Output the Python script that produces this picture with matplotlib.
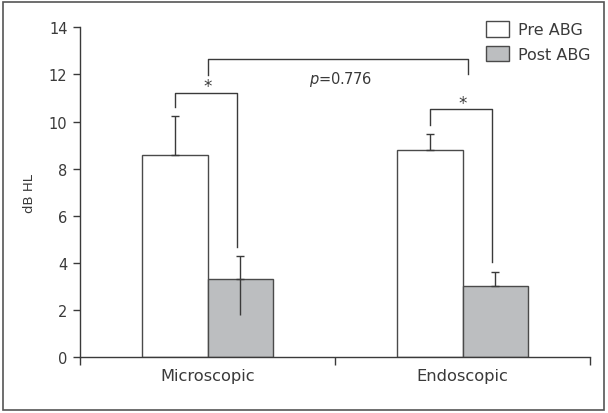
import matplotlib
matplotlib.use("Agg")
import matplotlib.pyplot as plt
import numpy as np
from matplotlib.patches import Rectangle

categories = ["Microscopic", "Endoscopic"]
series = ["Pre ABG", "Post ABG"]
pre_vals = [8.58, 8.80]
post_vals = [3.34, 3.03]
pre_err_up = [1.64, 0.69]
pre_err_lo = [0.0, 0.0]
post_err_up = [0.96, 0.59]
post_err_lo = [1.56, 0.0]
yticks = [0, 2, 4, 6, 8, 10, 12, 14]

ink = "#3a3a3a"
plt.rcParams['font.family'] = ['DejaVu Sans']

fig = plt.figure(figsize=(6.08, 4.14), dpi=100)
ax = fig.add_axes([80/608, 1-358.3/414, 510/608, 330/414])

x = np.arange(len(categories))
w = 0.255
ax.bar(x - w/2, pre_vals, w, color="white", edgecolor="#4a4a4a", linewidth=1.0, label=series[0], zorder=2)
ax.bar(x + w/2, post_vals, w, color="#bcbec0", edgecolor="#4a4a4a", linewidth=1.0, label=series[1], zorder=2)

z = np.zeros(2)
ax.errorbar(x - w/2, pre_vals, yerr=[z, pre_err_up], fmt="none", ecolor=ink, elinewidth=1.0, capsize=3, capthick=1.0, zorder=3)
ax.errorbar(x + w/2, post_vals, yerr=[z, post_err_up], fmt="none", ecolor=ink, elinewidth=1.0, capsize=3, capthick=1.0, zorder=3)
ax.errorbar(x + w/2, post_vals, yerr=[post_err_lo, z], fmt="none", ecolor=ink, elinewidth=1.0, capsize=0, zorder=3)

# significance brackets
lk = dict(color=ink, lw=1.0, zorder=3)
# microscopic
ax.plot([x[0]-w/2, x[0]-w/2, x[0]+w/2 - 0.01, x[0]+w/2 - 0.01], [10.61, 11.20, 11.20, 4.67], **lk)
ax.text(x[0], 11.12, "*", ha="center", va="bottom", fontsize=12, color=ink)
# endoscopic
ax.plot([x[1]-w/2, x[1]-w/2, x[1]+w/2 - 0.01, x[1]+w/2 - 0.01], [9.86, 10.52, 10.52, 4.03], **lk)
ax.text(x[1], 10.42, "*", ha="center", va="bottom", fontsize=12, color=ink)
# between groups
ax.plot([x[0], x[0], x[1]+0.02, x[1]+0.02], [11.98, 12.64, 12.64, 12.0], **lk)
ax.text(0.52, 11.83, r"$p$=0.776", ha="center", va="center", fontsize=10.5, color=ink)

ax.set_xlim(-0.5, 1.5)
ax.set_ylim(0, 14)
ax.set_yticks(yticks)
ax.set_xticks(x)
ax.set_xticklabels(categories, fontsize=11.7, color=ink)
ax.tick_params(axis="x", which="major", length=0, pad=8)
ax.set_xticks([-0.5, 0.5, 1.5], minor=True)
ax.tick_params(axis="x", which="minor", direction="out", length=6, color=ink, width=1.0)
ax.tick_params(axis="y", direction="out", length=5, color=ink, width=1.0, labelsize=10.5, labelcolor=ink, pad=4)
ax.set_ylabel("dB HL", fontsize=9.5, color=ink, labelpad=9)
for s in ["top", "right"]:
    ax.spines[s].set_visible(False)
for s in ["left", "bottom"]:
    ax.spines[s].set_color(ink)
    ax.spines[s].set_linewidth(1.0)
ax.spines["left"].set_bounds(0, 14)

leg = ax.legend(loc="upper right", bbox_to_anchor=(1.03, 1.062), frameon=False, fontsize=11.5,
                handlelength=1.45, handleheight=1.1, handletextpad=0.6, labelspacing=0.55)
for t in leg.get_texts():
    t.set_color(ink)

fig.patches.append(Rectangle((3/608, 3/414), 601/608, 408/414, transform=fig.transFigure,
                             fill=False, edgecolor="#555555", linewidth=1.2))

fig.savefig("out.png", dpi=100)
